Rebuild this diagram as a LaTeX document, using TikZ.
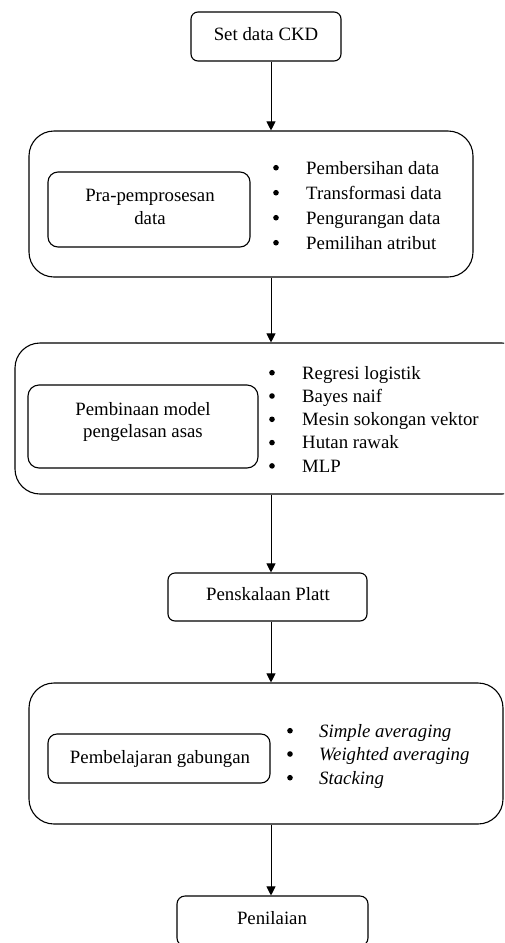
\documentclass[tikz,border=0pt]{standalone}
\usepackage{fontspec}
\setmainfont{Liberation Serif}
\usetikzlibrary{arrows.meta}
\begin{document}
\begin{tikzpicture}[x=1pt,y=-1pt,
  box/.style={draw, line width=1.1pt, rounded corners=#1, inner sep=0pt},
  box/.default=8pt,
  txt/.style={inner sep=0pt, anchor=base, font=\fontsize{18.8}{23}\selectfont},
  item/.style={txt, anchor=base west},
  itemit/.style={item, font=\fontsize{18.8}{23}\selectfont\itshape},
  arr/.style={line width=0.9pt, -{Triangle[length=9pt,width=9pt]}},
  dot/.style={circle, fill=black, inner sep=0pt, minimum size=5.6pt}
]
\useasboundingbox (0,0) rectangle (504,943);
\clip (0,0) rectangle (504,943);

% boxes
\node[box=7pt, minimum width=150pt, minimum height=49pt] (ckd) at (266,36.5) {};
\node[box=25pt, minimum width=444pt, minimum height=146pt] (pre) at (251,204) {};
\node[box=10pt, minimum width=202pt, minimum height=75pt] (prein) at (149,209.5) {};
\node[box=25pt, minimum width=512pt, minimum height=151pt] (model) at (271,418.5) {};
\node[box=11pt, minimum width=230pt, minimum height=83pt] (modelin) at (143,426.5) {};
\node[box=7pt, minimum width=199pt, minimum height=48pt] (platt) at (267.5,597) {};
\node[box=25pt, minimum width=474pt, minimum height=141pt] (ens) at (266,753.5) {};
\node[box=9pt, minimum width=222pt, minimum height=49pt] (ensin) at (159,758.5) {};
\node[box=8pt, minimum width=191pt, minimum height=50pt] (pen) at (272.5,921) {};

% box texts
\node[txt] (tckd) at (266,40) {Set data CKD};
\node[txt] (tpre1) at (150,201) {Pra-pemprosesan};
\node[txt] (tpre2) at (150,224) {data};
\node[txt] (tmod1) at (143,415) {Pembinaan model};
\node[txt] (tmod2) at (143,437) {pengelasan asas};
\node[txt] (tplatt) at (268,600) {Penskalaan Platt};
\node[txt] (tens) at (160,763) {Pembelajaran gabungan};
\node[txt] (tpen) at (272,924) {Penilaian};

% list 1
\node[dot] (b11) at (276,167.7) {};
\node[dot] (b12) at (276,192.7) {};
\node[dot] (b13) at (276,217.7) {};
\node[dot] (b14) at (276,242.7) {};
\node[item] (l11) at (306,174) {Pembersihan data};
\node[item] (l12) at (306,199) {Transformasi data};
\node[item] (l13) at (306,224) {Pengurangan data};
\node[item] (l14) at (306,249) {Pemilihan atribut};

% list 2
\node[dot] (b21) at (272,372.7) {};
\node[dot] (b22) at (272,396) {};
\node[dot] (b23) at (272,419.3) {};
\node[dot] (b24) at (272,442.6) {};
\node[dot] (b25) at (272,465.9) {};
\node[item] (l21) at (302,379) {Regresi logistik};
\node[item] (l22) at (302,402.3) {Bayes naif};
\node[item] (l23) at (302,425.6) {Mesin sokongan vektor};
\node[item] (l24) at (302,448.9) {Hutan rawak};
\node[item] (l25) at (302,472.2) {MLP};

% list 3
\node[dot] (b31) at (290,730.7) {};
\node[dot] (b32) at (290,754) {};
\node[dot] (b33) at (290,777.7) {};
\node[itemit] (l31) at (319,737) {Simple averaging};
\node[itemit] (l32) at (319,760.3) {Weighted averaging};
\node[itemit] (l33) at (319,784) {Stacking};

% connectors
\coordinate (ax) at (271,0);
\draw[arr] (ckd.south -| ax) -- (pre.north -| ax);
\draw[arr] (pre.south -| ax) -- (model.north -| ax);
\draw[arr] (model.south -| ax) -- (platt.north -| ax);
\draw[arr] (platt.south -| ax) -- (ens.north -| ax);
\draw[arr] (ens.south -| ax) -- (pen.north -| ax);
\end{tikzpicture}
\end{document}
